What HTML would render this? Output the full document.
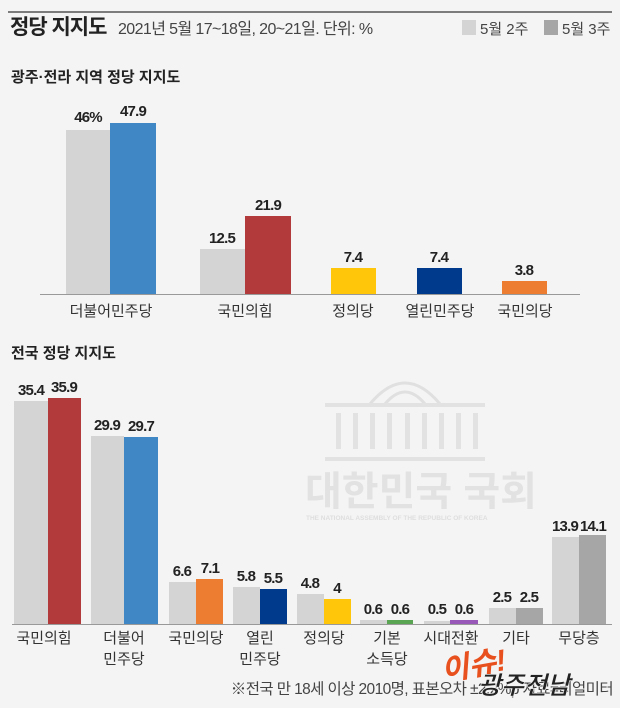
<!DOCTYPE html>
<html><head><meta charset="utf-8"><style>
html,body{margin:0;padding:0;background:#f4f4f4;}
svg{display:block;font-family:"Liberation Sans","Noto Sans CJK KR",sans-serif;}
.v{font-size:15px;font-weight:bold;fill:#222;text-anchor:middle;letter-spacing:-0.8px}
.l{font-size:15px;fill:#333;text-anchor:middle}
</style></head><body>
<svg width="620" height="708" viewBox="0 0 620 708">
<rect width="620" height="708" fill="#f4f4f4"/>
<line x1="8" y1="12" x2="612" y2="12" stroke="#555" stroke-width="1.5"/>
<text x="10" y="34" font-size="21" font-weight="bold" fill="#222" letter-spacing="-1">정당 지지도</text>
<text x="118" y="34" font-size="16" fill="#444" letter-spacing="-0.6">2021년 5월 17~18일, 20~21일. 단위: %</text>
<rect x="462" y="20" width="14" height="15" fill="#d4d4d4"/>
<text x="480" y="34" font-size="15" fill="#444">5월 2주</text>
<rect x="544" y="20" width="14" height="15" fill="#a6a6a6"/>
<text x="562" y="34" font-size="15" fill="#444">5월 3주</text>
<text x="11" y="82" font-size="15" font-weight="bold" fill="#222">광주·전라 지역 정당 지지도</text>

<rect x="66" y="130" width="44" height="164" fill="#d4d4d4"/>
<rect x="110" y="123" width="46" height="171" fill="#3f88c5"/>
<rect x="200" y="249" width="45" height="45" fill="#d4d4d4"/>
<rect x="245" y="216" width="46" height="78" fill="#b23a3a"/>
<rect x="331" y="268" width="45" height="26" fill="#ffc60a"/>
<rect x="417" y="268" width="45" height="26" fill="#003a8c"/>
<rect x="502" y="281" width="45" height="13" fill="#ec7d31"/>
<line x1="40" y1="294.5" x2="580" y2="294.5" stroke="#999" stroke-width="1"/>
<text class="v" x="88" y="122">46%</text>
<text class="v" x="133" y="116">47.9</text>
<text class="v" x="222" y="243">12.5</text>
<text class="v" x="268" y="210">21.9</text>
<text class="v" x="353" y="262">7.4</text>
<text class="v" x="439" y="262">7.4</text>
<text class="v" x="524" y="275">3.8</text>
<text class="l" x="111" y="316">더불어민주당</text>
<text class="l" x="245" y="316">국민의힘</text>
<text class="l" x="353" y="316">정의당</text>
<text class="l" x="440" y="316">열린민주당</text>
<text class="l" x="525" y="316">국민의당</text>

<text x="11" y="358" font-size="15" font-weight="bold" fill="#222">전국 정당 지지도</text>

<g fill="#e2e2e2" stroke="none">
<path d="M370 404 Q405 362 440 404" fill="none" stroke="#e0e0e0" stroke-width="3"/>
<path d="M385 404 Q405 380 425 404" fill="none" stroke="#e0e0e0" stroke-width="3"/>
<rect x="325" y="403" width="160" height="4"/>
<rect x="336" y="413" width="5" height="36"/><rect x="353" y="413" width="5" height="36"/>
<rect x="370" y="413" width="5" height="36"/><rect x="387" y="413" width="5" height="36"/>
<rect x="405" y="413" width="5" height="36"/><rect x="422" y="413" width="5" height="36"/>
<rect x="439" y="413" width="5" height="36"/><rect x="456" y="413" width="5" height="36"/>
<rect x="473" y="413" width="5" height="36"/>
<rect x="325" y="457" width="160" height="4"/>
</g>
<text x="305" y="505" font-size="40" font-weight="bold" fill="#e2e2e2">대한민국 국회</text>
<text x="306" y="520" font-size="6.5" fill="#dedede" font-weight="bold">THE NATIONAL ASSEMBLY OF THE REPUBLIC OF KOREA</text>

<rect x="14" y="401" width="34" height="223" fill="#d4d4d4"/>
<rect x="48" y="398" width="33" height="226" fill="#b23a3a"/>
<rect x="91" y="436" width="33" height="188" fill="#d4d4d4"/>
<rect x="124" y="437" width="34" height="187" fill="#3f88c5"/>
<rect x="169" y="582" width="27" height="42" fill="#d4d4d4"/>
<rect x="196" y="579" width="27" height="45" fill="#ec7d31"/>
<rect x="233" y="587" width="27" height="37" fill="#d4d4d4"/>
<rect x="260" y="589" width="27" height="35" fill="#003a8c"/>
<rect x="297" y="594" width="27" height="30" fill="#d4d4d4"/>
<rect x="324" y="599" width="27" height="25" fill="#ffc60a"/>
<rect x="360" y="620" width="27" height="4" fill="#d4d4d4"/>
<rect x="387" y="620" width="26" height="4" fill="#5aa553"/>
<rect x="424" y="621" width="26" height="3" fill="#d4d4d4"/>
<rect x="450" y="620" width="28" height="4" fill="#9858b8"/>
<rect x="489" y="608" width="27" height="16" fill="#d4d4d4"/>
<rect x="516" y="608" width="27" height="16" fill="#a6a6a6"/>
<rect x="552" y="537" width="27" height="87" fill="#d4d4d4"/>
<rect x="579" y="535" width="27" height="89" fill="#a6a6a6"/>
<line x1="12" y1="624.5" x2="612" y2="624.5" stroke="#999" stroke-width="1"/>
<text class="v" x="31" y="395">35.4</text>
<text class="v" x="64" y="392">35.9</text>
<text class="v" x="107" y="430">29.9</text>
<text class="v" x="141" y="431">29.7</text>
<text class="v" x="182" y="576">6.6</text>
<text class="v" x="210" y="573">7.1</text>
<text class="v" x="246" y="581">5.8</text>
<text class="v" x="273" y="583">5.5</text>
<text class="v" x="310" y="588">4.8</text>
<text class="v" x="337" y="593">4</text>
<text class="v" x="373" y="614">0.6</text>
<text class="v" x="400" y="614">0.6</text>
<text class="v" x="437" y="614">0.5</text>
<text class="v" x="464" y="614">0.6</text>
<text class="v" x="502" y="602">2.5</text>
<text class="v" x="529" y="602">2.5</text>
<text class="v" x="565" y="531">13.9</text>
<text class="v" x="593" y="531">14.1</text>
<text class="l" x="44" y="643">국민의힘</text>
<text class="l" x="124" y="643">더불어</text>
<text class="l" x="124" y="664">민주당</text>
<text class="l" x="196" y="643">국민의당</text>
<text class="l" x="260" y="643">열린</text>
<text class="l" x="260" y="664">민주당</text>
<text class="l" x="324" y="643">정의당</text>
<text class="l" x="387" y="643">기본</text>
<text class="l" x="387" y="664">소득당</text>
<text class="l" x="451" y="643">시대전환</text>
<text class="l" x="516" y="643">기타</text>
<text class="l" x="579" y="643">무당층</text>
<text x="613" y="694" font-size="15.5" fill="#444" text-anchor="end" letter-spacing="-0.6">※전국 만 18세 이상 2010명, 표본오차 ±2.2%p 자료=리얼미터</text>
<text x="440" y="676" font-size="30" font-weight="bold" font-style="italic" fill="#e8501e" transform="rotate(-10 470 660)">이슈!</text>
<text x="478" y="694" font-size="25" font-weight="bold" font-style="italic" fill="#222" stroke="#f4f4f4" stroke-width="0.6">광주전남</text>
</svg>
</body></html>
